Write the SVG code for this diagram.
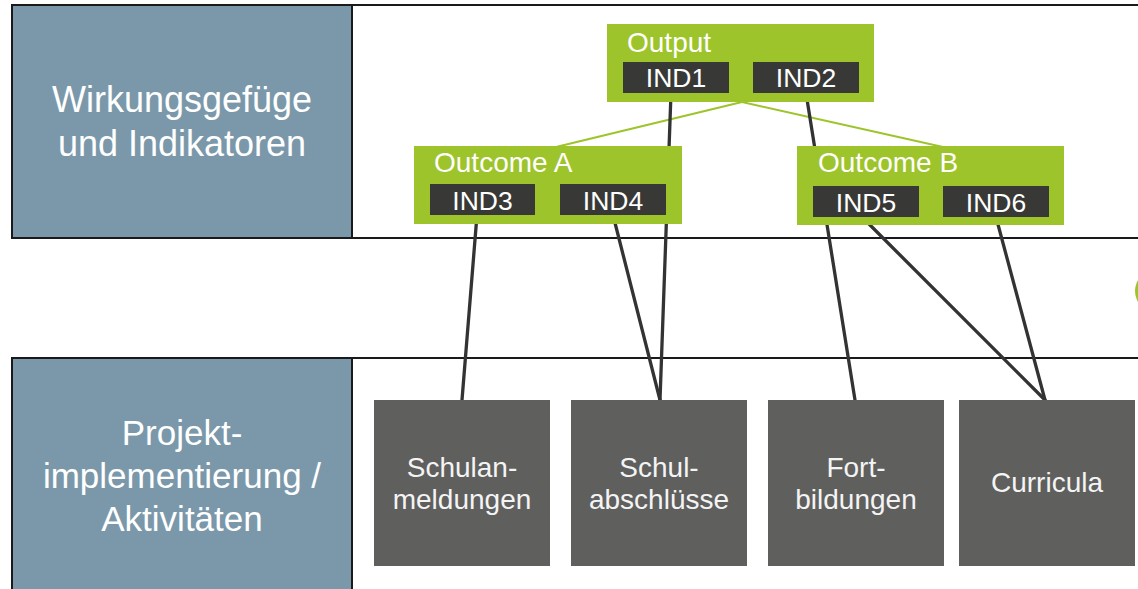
<svg xmlns="http://www.w3.org/2000/svg" width="1138" height="589" viewBox="0 0 1138 589">
<style>
.band{fill:#ffffff;stroke:#1a1a1a;stroke-width:2}
.side{fill:#7a98aa;stroke:#1a1a1a;stroke-width:2}
.side-t{font-family:"Liberation Sans",Arial,sans-serif;fill:#ffffff;text-anchor:middle}
.grn{fill:#9dc42a}
.ind{fill:#383836}
.ind-t{font-family:"Liberation Sans",Arial,sans-serif;font-size:26.5px;fill:#ffffff;text-anchor:middle}
.grn-t{font-family:"Liberation Sans",Arial,sans-serif;font-size:28px;fill:#ffffff}
.act{fill:#5f5f5e}
.act-t{font-family:"Liberation Sans",Arial,sans-serif;font-size:28px;fill:#f4f4f4;text-anchor:middle}
.dk{stroke:#333333;stroke-width:3.3;fill:none;stroke-linecap:round}
.gl{stroke:#9dc42a;stroke-width:2;fill:none}
</style>
<rect width="1138" height="589" fill="#ffffff"/>
<g id="band-top">
<rect class="band" x="12" y="5" width="1140" height="233"/>
<rect class="side" x="12" y="5" width="340" height="233"/>
<text class="side-t" font-size="36" x="182" y="112">Wirkungsgefüge</text>
<text class="side-t" font-size="36" x="182" y="156">und Indikatoren</text>
</g>
<g id="band-bottom">
<rect class="band" x="12" y="358" width="1140" height="245"/>
<rect class="side" x="12" y="358" width="340" height="245"/>
<text class="side-t" font-size="35" x="182" y="445">Projekt-</text>
<text class="side-t" font-size="35" x="182" y="488">implementierung /</text>
<text class="side-t" font-size="35" x="182" y="531">Aktivitäten</text>
</g>
<circle id="green-marker" cx="1156" cy="291" r="21" fill="#9dc42a"/>
<g id="connectors">
<line class="gl" x1="742" y1="102" x2="556" y2="147"/>
<line class="gl" x1="742" y1="102" x2="943" y2="147"/>
<line class="dk" x1="671" y1="93" x2="660" y2="400"/>
<line class="dk" x1="806" y1="93" x2="855" y2="400"/>
<line class="dk" x1="477" y1="215" x2="462" y2="400"/>
<line class="dk" x1="613" y1="215" x2="660" y2="400"/>
<line class="dk" x1="862" y1="217" x2="1045" y2="400"/>
<line class="dk" x1="996" y1="217" x2="1045" y2="400"/>
</g>
<g id="output">
<rect class="grn" x="607" y="24" width="267" height="78"/>
<text class="grn-t" x="627" y="52">Output</text>
<rect class="ind" x="623" y="62" width="106" height="31"/>
<text class="ind-t" x="676" y="87">IND1</text>
<rect class="ind" x="753" y="62" width="106" height="31"/>
<text class="ind-t" x="806" y="87">IND2</text>
</g>
<g id="outcome-a">
<rect class="grn" x="414" y="146" width="268" height="78"/>
<text class="grn-t" x="434" y="172">Outcome A</text>
<rect class="ind" x="430" y="184" width="105" height="31"/>
<text class="ind-t" x="482.5" y="210">IND3</text>
<rect class="ind" x="560" y="184" width="106" height="31"/>
<text class="ind-t" x="613" y="210">IND4</text>
</g>
<g id="outcome-b">
<rect class="grn" x="797" y="146" width="267" height="79"/>
<text class="grn-t" x="818" y="172">Outcome B</text>
<rect class="ind" x="813" y="186" width="106" height="31"/>
<text class="ind-t" x="866" y="212">IND5</text>
<rect class="ind" x="943" y="186" width="106" height="31"/>
<text class="ind-t" x="996" y="212">IND6</text>
</g>
<g id="schulanmeldungen">
<rect class="act" x="374" y="400" width="176" height="166"/>
<text class="act-t" x="462" y="477">Schulan-</text>
<text class="act-t" x="462" y="509">meldungen</text>
</g>
<g id="schulabschluesse">
<rect class="act" x="571" y="400" width="176" height="166"/>
<text class="act-t" x="659" y="477">Schul-</text>
<text class="act-t" x="659" y="509">abschlüsse</text>
</g>
<g id="fortbildungen">
<rect class="act" x="768" y="400" width="176" height="166"/>
<text class="act-t" x="856" y="477">Fort-</text>
<text class="act-t" x="856" y="509">bildungen</text>
</g>
<g id="curricula">
<rect class="act" x="959" y="400" width="176" height="166"/>
<text class="act-t" x="1047" y="492">Curricula</text>
</g>
</svg>
